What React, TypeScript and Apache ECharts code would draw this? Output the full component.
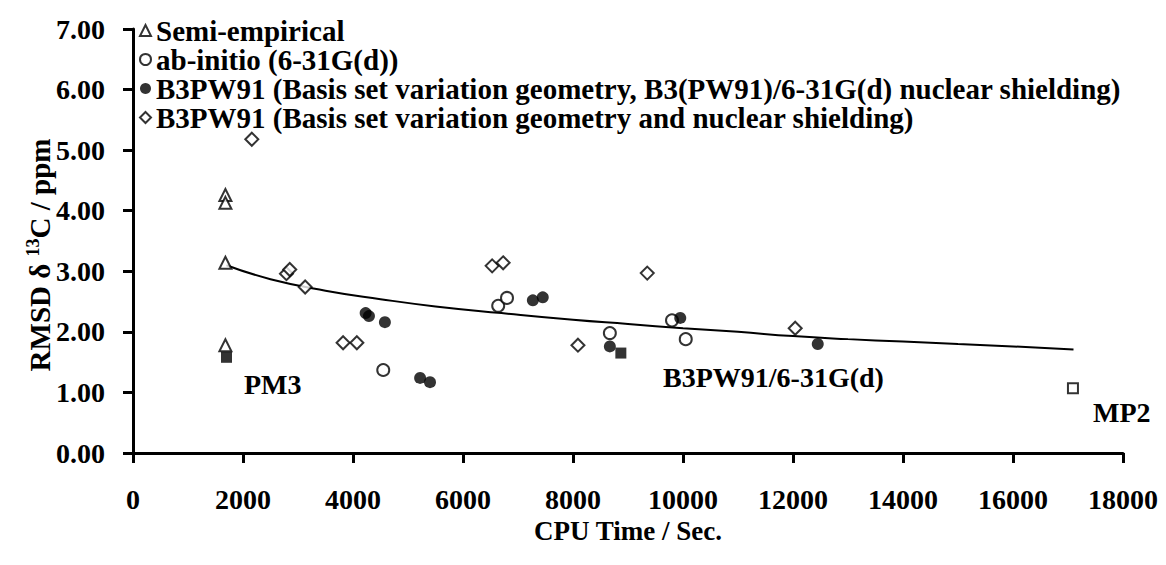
import React, { useEffect, useRef } from "react";
import * as echarts from "echarts";

const xTicks = { min: 0, max: 18000, interval: 2000 };
const yTicks = { min: 0, max: 7, interval: 1 };

const semiEmpirical: number[][] = [[1680, 4.26], [1680, 4.13], [1680, 3.14], [1680, 1.78]];
const abInitio: number[][] = [[4550, 1.37], [6640, 2.43], [6800, 2.56], [8670, 1.98], [9800, 2.19], [10050, 1.88]];
const b3pw91Shield: number[][] = [[4230, 2.31], [4290, 2.26], [4580, 2.16], [5220, 1.24], [5400, 1.17], [7270, 2.52], [7450, 2.57], [8670, 1.76], [9950, 2.23], [12450, 1.8]];
const b3pw91Basis: number[][] = [[2160, 5.18], [2790, 2.96], [2850, 3.03], [3130, 2.74], [3820, 1.82], [4070, 1.82], [6530, 3.09], [6730, 3.14], [8090, 1.78], [9350, 2.97], [12040, 2.06]];
const selectedMethods: number[][] = [[1700, 1.58], [8870, 1.65]];
const mp2Point: number[][] = [[17090, 1.07]];
const trendLine: number[][] = [[1700, 3.1], [2500, 2.87], [3500, 2.68], [4500, 2.54], [5500, 2.42], [6700, 2.31], [8000, 2.2], [9000, 2.13], [10000, 2.06], [11000, 2.0], [12000, 1.93], [13000, 1.88], [14000, 1.84], [15000, 1.8], [16000, 1.76], [17100, 1.71]];

const legendNames = [
  "Semi-empirical",
  "ab-initio (6-31G(d))",
  "B3PW91 (Basis set variation geometry, B3(PW91)/6-31G(d) nuclear shielding)",
  "B3PW91 (Basis set variation geometry and nuclear shielding)",
];

const FONT = "'Liberation Serif', 'Times New Roman', serif";

export default function App() {
  const ref = useRef<HTMLDivElement>(null);
  useEffect(() => {
    if (!ref.current) return;
    const chart = echarts.init(ref.current, undefined, { renderer: "svg" });
    const openStyle = { color: "#fff", borderColor: "#000", borderWidth: 2 };
    chart.setOption({
      animation: false,
      backgroundColor: "#fff",
      textStyle: { fontFamily: FONT },
      grid: { left: 133, right: 43, top: 29, bottom: 112 },
      legend: {
        orient: "vertical",
        left: 137,
        top: 14,
        padding: 2,
        itemWidth: 11,
        itemHeight: 11,
        itemGap: 0,
        itemTextGap: 12,
        data: legendNames,
        textStyle: { fontFamily: FONT, fontSize: 29, fontWeight: "bold", color: "#000", lineHeight: 27 },
      },
      xAxis: {
        type: "value",
        min: xTicks.min,
        max: xTicks.max,
        interval: xTicks.interval,
        name: "CPU Time / Sec.",
        nameLocation: "middle",
        nameGap: 54,
        nameTextStyle: { fontFamily: FONT, fontSize: 27, fontWeight: "bold", color: "#000" },
        splitLine: { show: false },
        axisLine: { lineStyle: { color: "#000", width: 3 } },
        axisTick: { length: 10, lineStyle: { color: "#000", width: 3 } },
        axisLabel: {
          margin: 32,
          fontFamily: FONT,
          fontSize: 28,
          fontWeight: "bold",
          color: "#000",
          formatter: (v: number) => String(v),
        },
      },
      yAxis: {
        type: "value",
        min: yTicks.min,
        max: yTicks.max,
        interval: yTicks.interval,
        splitLine: { show: false },
        axisLine: { lineStyle: { color: "#000", width: 3 } },
        axisTick: { length: 10, lineStyle: { color: "#000", width: 3 } },
        axisLabel: {
          margin: 28,
          fontFamily: FONT,
          fontSize: 28,
          fontWeight: "bold",
          color: "#000",
          formatter: (v: number) => v.toFixed(2),
        },
      },
      graphic: [
        {
          type: "text",
          x: 40,
          y: 255,
          rotation: Math.PI / 2,
          style: {
            text: "{a|RMSD δ }{s|13}{a|C / ppm}",
            align: "center",
            verticalAlign: "middle",
            rich: {
              a: { fontFamily: FONT, fontSize: 29, fontWeight: "bold", fill: "#000", lineHeight: 32 },
              s: { fontFamily: FONT, fontSize: 18, fontWeight: "bold", fill: "#000", verticalAlign: "top", lineHeight: 32 },
            },
          },
        },
        { type: "text", x: 244, y: 384, style: { text: "PM3", fontFamily: FONT, fontSize: 28, fontWeight: "bold", fill: "#000", verticalAlign: "middle" } },
        { type: "text", x: 663, y: 377, style: { text: "B3PW91/6-31G(d)", fontFamily: FONT, fontSize: 28, fontWeight: "bold", fill: "#000", verticalAlign: "middle" } },
        { type: "text", x: 1093, y: 412, style: { text: "MP2", fontFamily: FONT, fontSize: 28, fontWeight: "bold", fill: "#000", verticalAlign: "middle" } },
      ],
      series: [
        {
          type: "line",
          data: trendLine,
          smooth: true,
          symbol: "none",
          lineStyle: { color: "#000", width: 2 },
          silent: true,
          z: 1,
        },
        { name: legendNames[0], type: "scatter", data: semiEmpirical, symbol: "triangle", symbolSize: 12, itemStyle: openStyle, z: 3 },
        { name: legendNames[1], type: "scatter", data: abInitio, symbol: "circle", symbolSize: 12, itemStyle: openStyle, z: 3 },
        { name: legendNames[2], type: "scatter", data: b3pw91Shield, symbol: "circle", symbolSize: 12, itemStyle: { color: "#000" }, z: 3 },
        { name: legendNames[3], type: "scatter", data: b3pw91Basis, symbol: "diamond", symbolSize: 13, itemStyle: openStyle, z: 3 },
        { type: "scatter", data: selectedMethods, symbol: "rect", symbolSize: 11, itemStyle: { color: "#000" }, z: 4 },
        { type: "scatter", data: mp2Point, symbol: "rect", symbolSize: 10, itemStyle: openStyle, z: 4 },
      ],
    });
    return () => chart.dispose();
  }, []);
  return <div ref={ref} style={{ position: "fixed", left: 0, top: 0, width: 1166, height: 565 }} />;
}
